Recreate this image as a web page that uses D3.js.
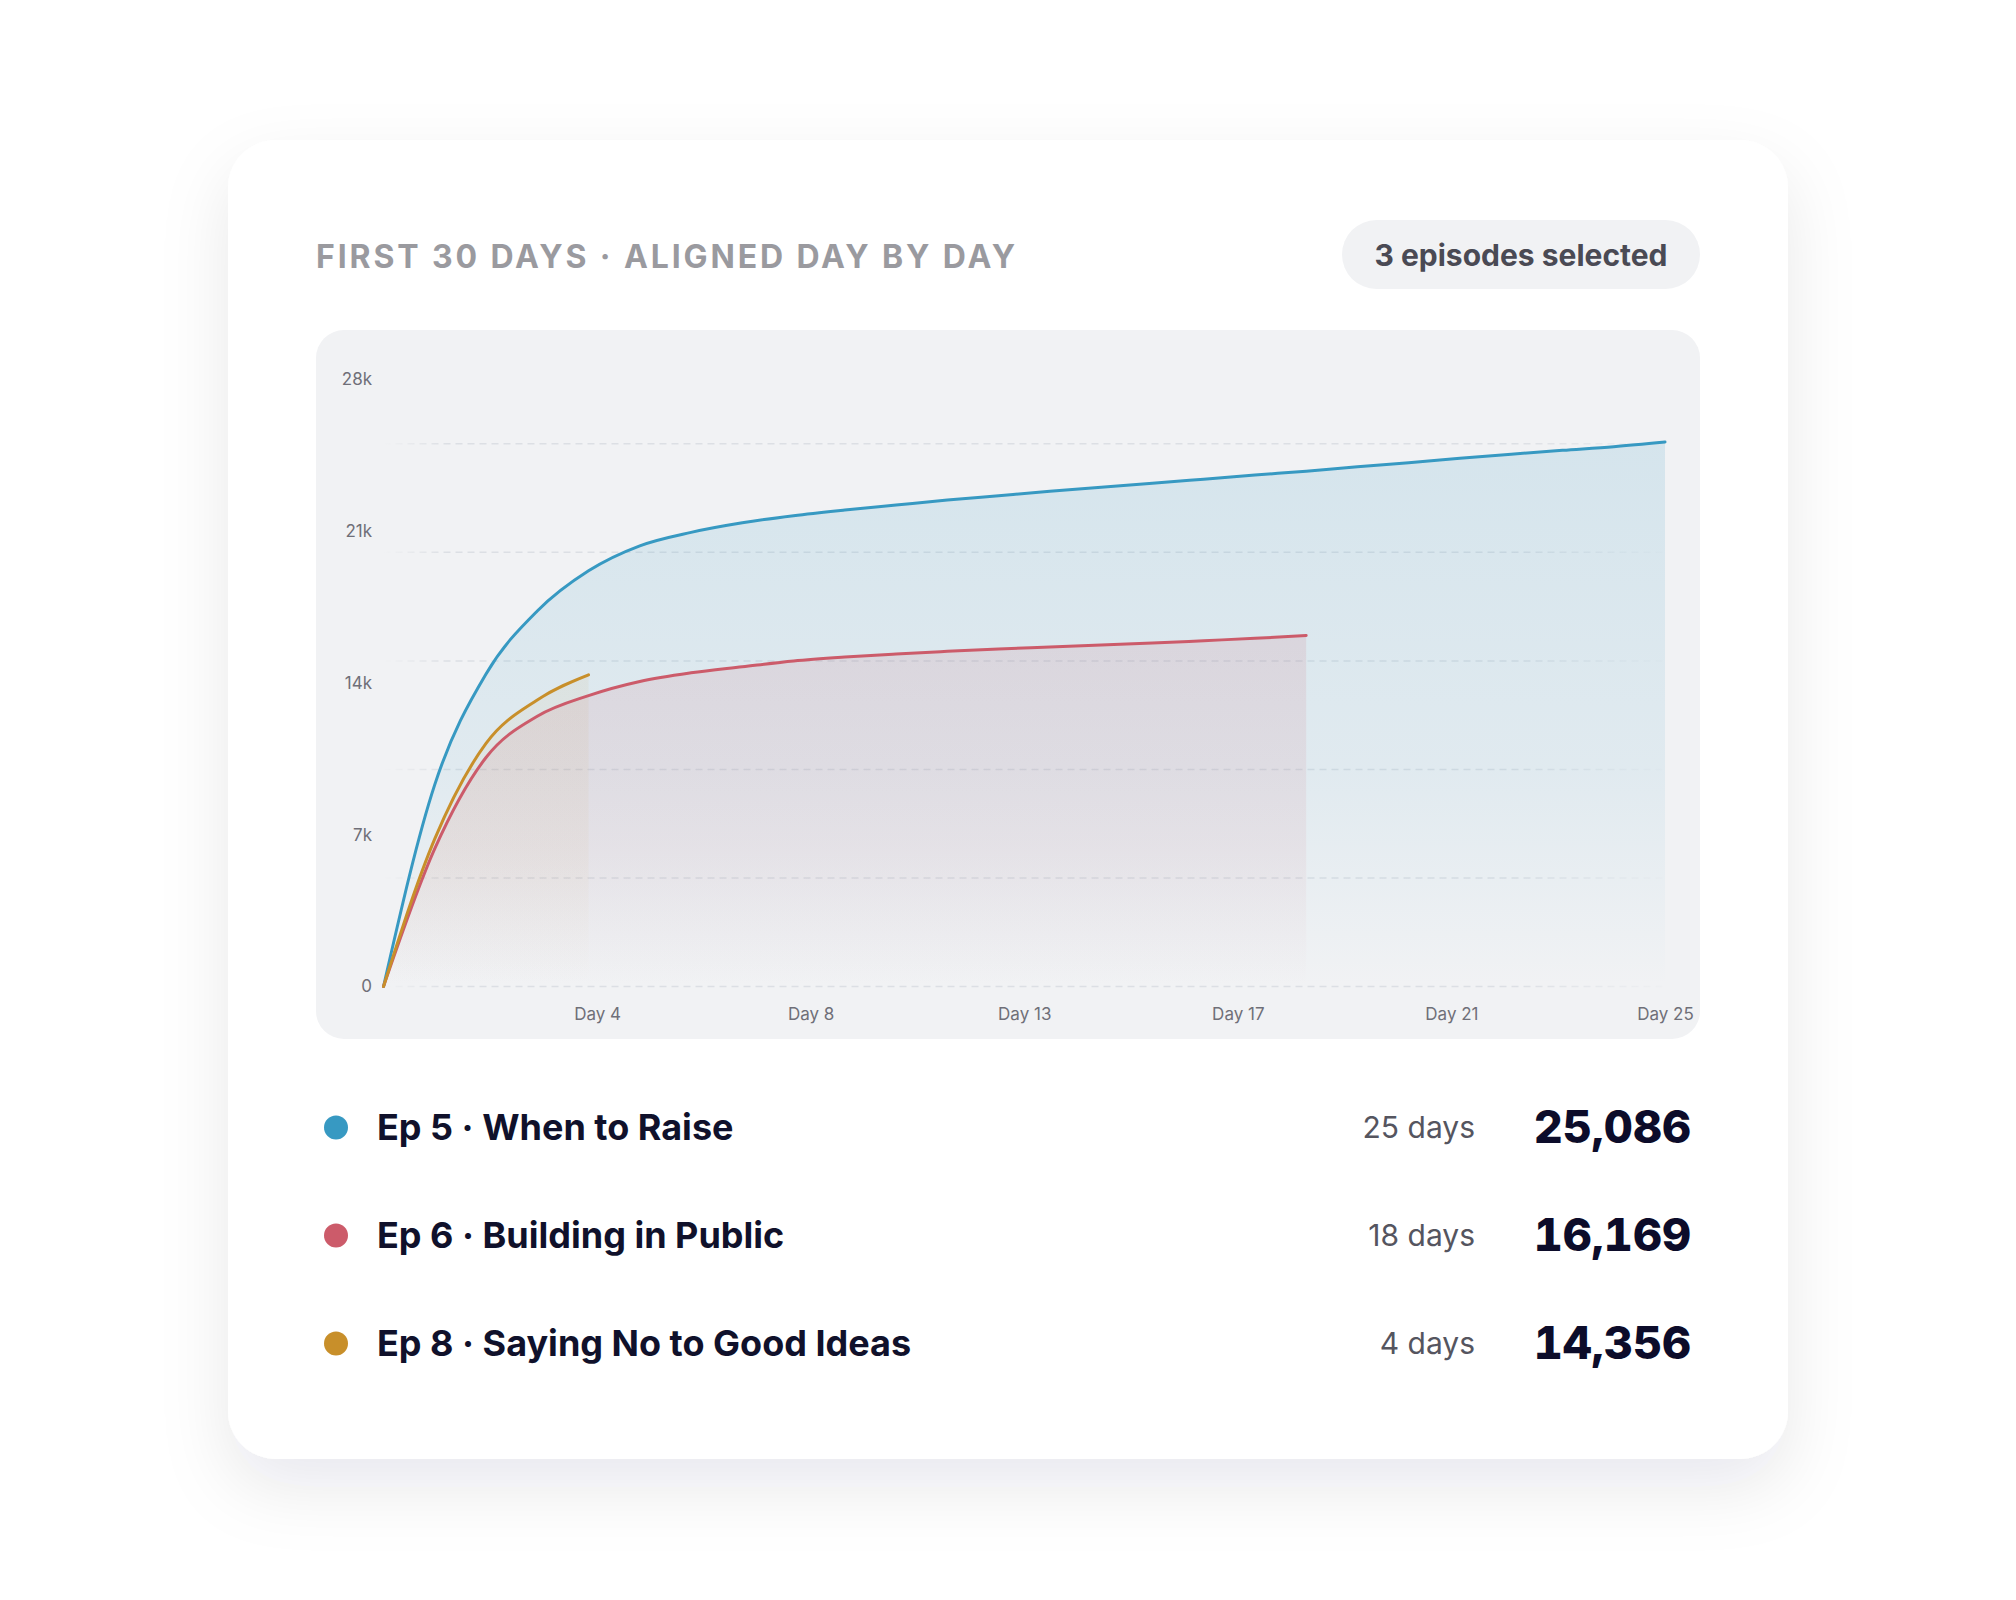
<!DOCTYPE html>
<html>
<head>
<meta charset="utf-8">
<script src="https://cdn.jsdelivr.net/npm/d3@7"></script>
<style>
  html, body { margin: 0; padding: 0; background: #ffffff; }
  svg { display: block; font-family: Inter, "Noto Sans", sans-serif; }
  .num { font-variant-numeric: tabular-nums; font-feature-settings: "tnum" 1; }
</style>
</head>
<body>
<svg id="chart" width="2016" height="1600"></svg>
<script>
// ---------- data ----------
const titleText = "FIRST 30 DAYS · ALIGNED DAY BY DAY";
const badgeText = "3 episodes selected";

const episodes = ["Ep 5 · When to Raise", "Ep 6 · Building in Public", "Ep 8 · Saying No to Good Ideas"];
const colors = ["#3799c2", "#cc5b6a", "#c88f2a"];
const dayCounts = ["25 days", "18 days", "4 days"];
const totals = [25086, 16169, 14356];

// cumulative listens by day since release (day 0 = release)
const ep5 = [0, 9300, 14400, 17300, 19150, 20300, 20920, 21360, 21690, 21950, 22180, 22410, 22610, 22810, 23000, 23180, 23370, 23560, 23740, 23940, 24130, 24330, 24520, 24700, 24870, 25086];
const ep6 = [0, 6350, 10550, 12450, 13400, 14050, 14450, 14730, 15000, 15180, 15320, 15440, 15550, 15640, 15730, 15820, 15930, 16040, 16169];
const ep8 = [0, 6800, 11200, 13200, 14356];
const seriesValues = [ep5, ep6, ep8];

const yTickValues = [0, 7000, 14000, 21000, 28000];
const yTickLabels = ["0", "7k", "14k", "21k", "28k"];
const gridValues = [0, 5000, 10000, 15000, 20000, 25000];
const xTickValues = [25/6, 50/6, 75/6, 100/6, 125/6, 25];
const xTickLabels = ["Day 4", "Day 8", "Day 13", "Day 17", "Day 21", "Day 25"];

// ---------- drawing ----------
const svg = d3.select("#chart");
const defs = svg.append("defs");

const shadow = defs.append("filter").attr("id", "cardShadow")
  .attr("x", "-20%").attr("y", "-20%").attr("width", "140%").attr("height", "150%");
shadow.append("feDropShadow").attr("dx", 0).attr("dy", 28).attr("stdDeviation", 34)
  .attr("flood-color", "#1a1a2e").attr("flood-opacity", 0.09);

// card
svg.append("rect").attr("x", 228).attr("y", 140).attr("width", 1560).attr("height", 1319)
  .attr("rx", 48).attr("fill", "#ffffff").attr("filter", "url(#cardShadow)");

// title
svg.append("text").attr("x", 316).attr("y", 268)
  .attr("font-size", 32).attr("font-weight", 700).attr("letter-spacing", "0.09em")
  .attr("fill", "#9a9a9f").text(titleText);

// badge
svg.append("rect").attr("x", 1342).attr("y", 220).attr("width", 358).attr("height", 69)
  .attr("rx", 34.5).attr("fill", "#f1f2f4");
svg.append("text").attr("x", 1521).attr("y", 265.5).attr("text-anchor", "middle")
  .attr("font-size", 30).attr("font-weight", 700).attr("fill", "#4a4a54").text(badgeText);

// chart panel
svg.append("rect").attr("x", 316).attr("y", 330).attr("width", 1384).attr("height", 709)
  .attr("rx", 28).attr("fill", "#f1f2f4");

const x = d3.scaleLinear().domain([0, 25]).range([383.5, 1665]);
const y = d3.scaleLinear().domain([0, 28000]).range([986.5, 378.7]);

// grid gradient (fading ends)
const gg = defs.append("linearGradient").attr("id", "gridGrad")
  .attr("gradientUnits", "userSpaceOnUse").attr("x1", x(0)).attr("x2", x(25)).attr("y1", 0).attr("y2", 0);
[[0, 0], [0.05, 1], [0.88, 1], [1, 0.1]].forEach(([o, op]) =>
  gg.append("stop").attr("offset", o).attr("stop-color", "#dcdfe4").attr("stop-opacity", op));

svg.append("g").selectAll("line").data(gridValues).join("line")
  .attr("x1", x(0)).attr("x2", x(25))
  .attr("y1", d => y(d)).attr("y2", d => y(d))
  .attr("stroke", "url(#gridGrad)").attr("stroke-width", 1.5)
  .attr("stroke-dasharray", "7 5");

// y axis
const yAxis = svg.append("g").attr("transform", "translate(372,0)")
  .call(d3.axisLeft(y).tickValues(yTickValues).tickSize(0).tickPadding(0)
    .tickFormat((d, i) => yTickLabels[i]));
yAxis.select(".domain").remove();
yAxis.selectAll("text").attr("font-size", 17).attr("fill", "#6f6f78")
  .attr("font-family", "Inter, sans-serif");

// x axis
const xAxis = svg.append("g").attr("transform", "translate(0,1008)")
  .call(d3.axisBottom(x).tickValues(xTickValues).tickSize(0).tickPadding(0)
    .tickFormat((d, i) => xTickLabels[i]));
xAxis.select(".domain").remove();
xAxis.selectAll("text").attr("font-size", 17).attr("fill", "#6f6f78")
  .attr("font-family", "Inter, sans-serif");

// area gradients
const topOpacity = [0.15, 0.13, 0.07];
colors.forEach((c, i) => {
  const g = defs.append("linearGradient").attr("id", "areaGrad" + i)
    .attr("x1", 0).attr("x2", 0).attr("y1", 0).attr("y2", 1);
  g.append("stop").attr("offset", 0).attr("stop-color", c).attr("stop-opacity", topOpacity[i]);
  g.append("stop").attr("offset", 0.6).attr("stop-color", c).attr("stop-opacity", topOpacity[i] * 0.6);
  g.append("stop").attr("offset", 1).attr("stop-color", c).attr("stop-opacity", 0.0);
});

const area = d3.area().x((d, i) => x(i)).y0(y(0)).y1(d => y(d)).curve(d3.curveMonotoneX);
const line = d3.line().x((d, i) => x(i)).y(d => y(d)).curve(d3.curveMonotoneX);

svg.append("g").selectAll("path").data(seriesValues).join("path")
  .attr("d", area).attr("fill", (d, i) => `url(#areaGrad${i})`);

svg.append("g").selectAll("path").data(seriesValues).join("path")
  .attr("d", line).attr("fill", "none")
  .attr("stroke", (d, i) => colors[i]).attr("stroke-width", 3)
  .attr("stroke-linejoin", "round").attr("stroke-linecap", "round");

// legend rows
const fmt = d3.format(",");
const rows = svg.append("g").selectAll("g").data(episodes).join("g")
  .attr("transform", (d, i) => `translate(0,${1127.6 + i * 108})`);
rows.append("circle").attr("cx", 336).attr("cy", 0).attr("r", 12)
  .attr("fill", (d, i) => colors[i]);
rows.append("text").attr("x", 377).attr("y", 12.5).attr("font-size", 36)
  .attr("font-weight", 700).attr("fill", "#10112b").text(d => d);
rows.append("text").attr("x", 1475).attr("y", 10).attr("text-anchor", "end")
  .attr("font-size", 30).attr("font-weight", 400).attr("fill", "#55555f")
  .text((d, i) => dayCounts[i]);
rows.append("text").attr("class", "num").attr("x", 1691).attr("y", 15.5).attr("text-anchor", "end")
  .attr("font-size", 45).attr("font-weight", 800).attr("fill", "#0c0c2a")
  .text((d, i) => fmt(totals[i]));
</script>
</body>
</html>
